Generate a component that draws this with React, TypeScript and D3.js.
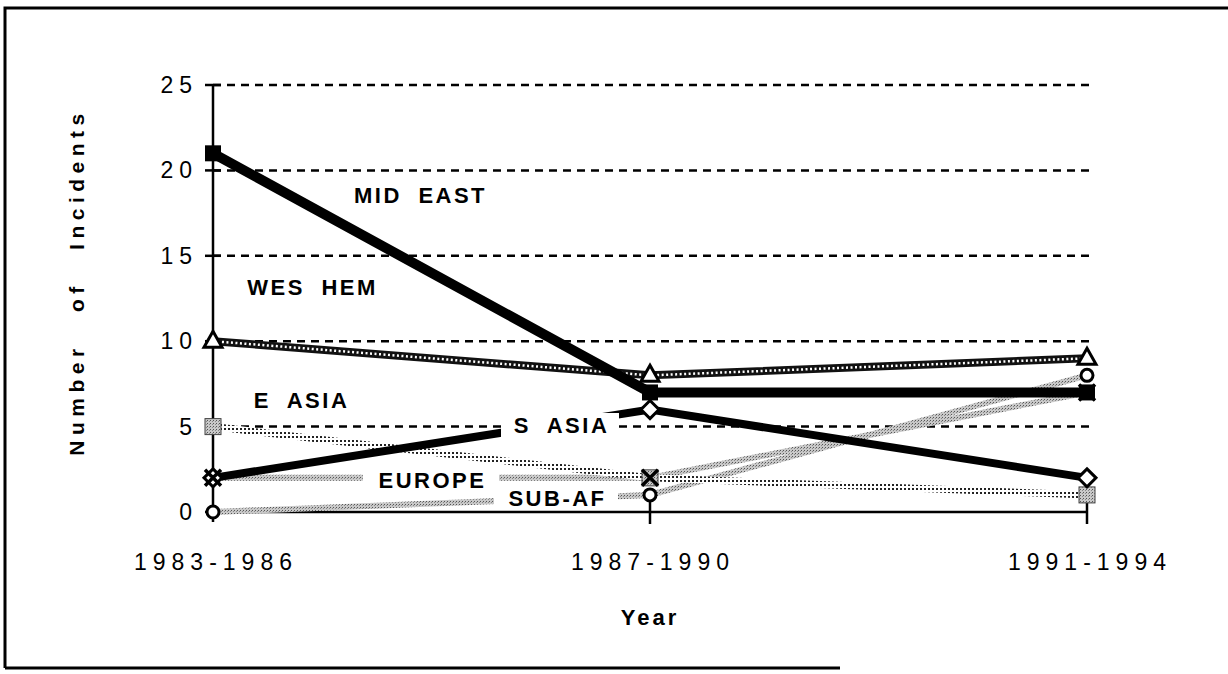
import React from 'react';
import * as d3 from 'd3';

// periods on the x axis
const years = ['1983-1986', '1987-1990', '1991-1994'];
const yTicks = [0, 5, 10, 15, 20, 25];

// incidents per region
const midEast = [21, 7, 7];
const wesHem = [10, 8, 9];
const eAsia = [5, 2, 1];
const sAsia = [2, 6, 2];
const europe = [2, 2, 7];
const subAf = [0, 1, 8];

const W = 1228;
const H = 674;

const x = d3.scalePoint<string>().domain(years).range([213, 1087]);
const y = d3.scaleLinear().domain([0, 25]).range([512, 85]);

const line = d3
  .line<number>()
  .x((d, i) => x(years[i]) as number)
  .y((d) => y(d));

const font = '"Liberation Sans", Arial, Helvetica, sans-serif';

function pts(vals: number[]) {
  return vals.map((v, i) => [x(years[i]) as number, y(v)]);
}

const tag = (label: string, cx: number, cy: number, w: number, knock: boolean) => (
  <g key={label}>
    {knock && <rect x={cx - w / 2} y={cy - 12} width={w} height={24} fill="#fff" />}
    <text
      x={cx + 1.5}
      y={cy}
      textAnchor="middle"
      dominantBaseline="central"
      fontFamily={font}
      fontWeight="bold"
      fontSize={22}
      letterSpacing={2.5}
      wordSpacing={8}
    >
      {label}
    </text>
  </g>
);

export default function App() {
  return (
    <svg
      width={W}
      height={H}
      style={{ position: 'absolute', left: 0, top: 0, background: '#fff' }}
    >
      <defs>
        <pattern id="dots" width="4" height="4" patternUnits="userSpaceOnUse">
          <rect width="4" height="4" fill="#fff" />
          <rect x="0" y="0" width="2" height="2" fill="#222" />
        </pattern>
        <pattern id="speck" width="3" height="3" patternUnits="userSpaceOnUse">
          <rect width="3" height="3" fill="#c8c8c8" />
          <rect x="0" y="0" width="1" height="1" fill="#555" />
          <rect x="2" y="1" width="1" height="1" fill="#888" />
        </pattern>
      </defs>

      {/* frame */}
      <path d="M5,668 L5,8 L1228,8" fill="none" stroke="#000" strokeWidth={3} />
      <line x1={5} x2={840} y1={668} y2={668} stroke="#000" strokeWidth={3} />

      {/* grid */}
      {yTicks.filter((t) => t > 0).map((t) => (
        <line
          key={t}
          x1={213}
          x2={1090}
          y1={y(t)}
          y2={y(t)}
          stroke="#000"
          strokeWidth={2.5}
          strokeDasharray="8 6"
        />
      ))}

      {/* axes */}
      <line x1={213} x2={213} y1={y(25)} y2={y(0) + 10} stroke="#000" strokeWidth={2.5} />
      <line x1={213} x2={1087} y1={y(0)} y2={y(0)} stroke="#000" strokeWidth={2.5} />
      {yTicks.map((t) => (
        <g key={'yt' + t}>
          <line x1={205} x2={221} y1={y(t)} y2={y(t)} stroke="#000" strokeWidth={2.5} />
          <text
            x={198}
            y={y(t)}
            textAnchor="end"
            dominantBaseline="central"
            fontFamily={font}
            fontSize={23}
            letterSpacing={6}
          >
            {t}
          </text>
        </g>
      ))}
      {years.map((yr, i) => (
        <g key={yr}>
          {i > 0 && (
            <line
              x1={x(yr)}
              x2={x(yr)}
              y1={y(0) - 12}
              y2={y(0) + 12}
              stroke="#000"
              strokeWidth={2.5}
            />
          )}
          <text
            x={(x(yr) as number) + 3}
            y={562}
            textAnchor="middle"
            dominantBaseline="central"
            fontFamily={font}
            fontSize={23}
            letterSpacing={6}
          >
            {yr}
          </text>
        </g>
      ))}
      <text
        x={650}
        y={617}
        textAnchor="middle"
        dominantBaseline="central"
        fontFamily={font}
        fontWeight="bold"
        fontSize={22}
        letterSpacing={3}
      >
        Year
      </text>
      <text
        transform="translate(76,282) rotate(-90)"
        textAnchor="middle"
        dominantBaseline="central"
        fontFamily={font}
        fontWeight="bold"
        fontSize={21}
        letterSpacing={5.5}
        wordSpacing={20}
      >
        Number of Incidents
      </text>

      {/* series lines */}
      <path d={line(subAf) || ''} fill="none" stroke="url(#speck)" strokeWidth={6} />
      <path d={line(europe) || ''} fill="none" stroke="url(#speck)" strokeWidth={6} />
      <path d={line(eAsia) || ''} fill="none" stroke="url(#dots)" strokeWidth={7} />
      <path d={line(wesHem) || ''} fill="none" stroke="#111" strokeWidth={8} />
      <path
        d={line(wesHem) || ''}
        fill="none"
        stroke="#fff"
        strokeWidth={2.5}
        strokeDasharray="2 2.5"
      />
      <path d={line(sAsia) || ''} fill="none" stroke="#000" strokeWidth={8} />
      <path d={line(midEast) || ''} fill="none" stroke="#000" strokeWidth={10} />

      {/* markers */}
      {pts(midEast).map(([px, py], i) => (
        <rect key={'me' + i} x={px - 8} y={py - 8} width={16} height={16} fill="#000" />
      ))}
      {pts(eAsia).map(([px, py], i) => (
        <rect
          key={'ea' + i}
          x={px - 8}
          y={py - 8}
          width={16}
          height={16}
          fill="url(#speck)"
          stroke="#444"
          strokeWidth={1}
        />
      ))}
      {pts(wesHem).map(([px, py], i) => (
        <path
          key={'wh' + i}
          d={`M${px},${py - 10} L${px + 9},${py + 6} L${px - 9},${py + 6} Z`}
          fill="#fff"
          stroke="#000"
          strokeWidth={3}
        />
      ))}
      {pts(sAsia).map(([px, py], i) => (
        <path
          key={'sa' + i}
          d={`M${px},${py - 9} L${px + 9},${py} L${px},${py + 9} L${px - 9},${py} Z`}
          fill="#fff"
          stroke="#000"
          strokeWidth={3}
        />
      ))}
      {pts(europe).map(([px, py], i) => (
        <path
          key={'eu' + i}
          d={`M${px - 8},${py - 8} L${px + 8},${py + 8} M${px + 8},${py - 8} L${px - 8},${py + 8}`}
          fill="none"
          stroke="#000"
          strokeWidth={3.5}
        />
      ))}
      {pts(subAf).map(([px, py], i) => (
        <circle key={'sf' + i} cx={px} cy={py} r={6} fill="#fff" stroke="#000" strokeWidth={3} />
      ))}

      {/* region labels */}
      {tag('MID EAST', 419, 195, 150, false)}
      {tag('WES HEM', 311, 287, 140, false)}
      {tag('E ASIA', 300, 400, 110, false)}
      {tag('S ASIA', 560, 425, 118, true)}
      {tag('EUROPE', 431, 480, 136, true)}
      {tag('SUB-AF', 556, 498, 124, true)}
    </svg>
  );
}
